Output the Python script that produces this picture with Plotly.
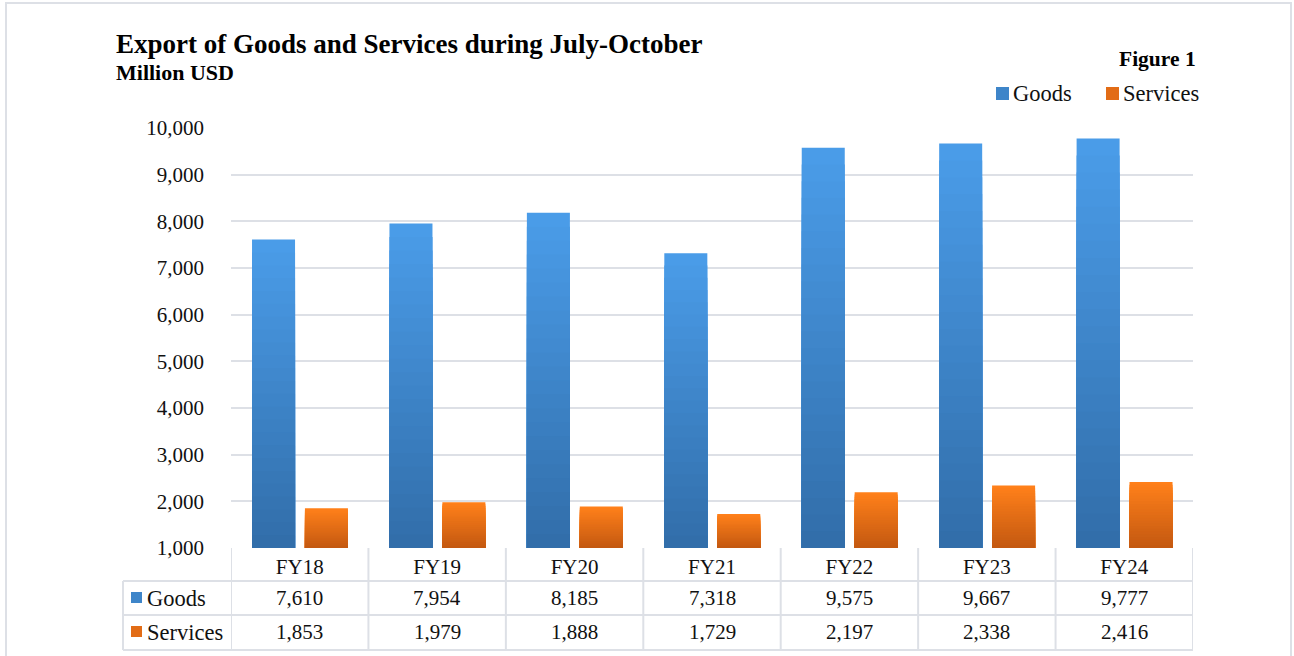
import plotly.graph_objects as go

categories = ["FY18", "FY19", "FY20", "FY21", "FY22", "FY23", "FY24"]
goods = [7610, 7954, 8185, 7318, 9575, 9667, 9777]
services = [1853, 1979, 1888, 1729, 2197, 2338, 2416]
series_names = ["Goods", "Services"]
y_ticks = [1000, 2000, 3000, 4000, 5000, 6000, 7000, 8000, 9000, 10000]

FONT = "Liberation Serif"
GRID = "#dde0e6"
AXIS_MIN = 1000

W, H = 1294, 656
L, R, T, B = 231, 1294 - 1193, 128, 656 - 548
PW, PH = W - L - R, H - T - B


def px_x(p):
    return (p - L) / PW


def px_y(p):
    return (H - B - p) / PH


def lerp(c1, c2, t):
    return "rgb(%d,%d,%d)" % tuple(round(a + (b - a) * t) for a, b in zip(c1, c2))


grad = {
    "Goods": ((74, 156, 232), (50, 110, 170)),
    "Services": ((255, 128, 26), (196, 89, 17)),
}
offsets = {"Goods": -0.347, "Services": 0.038}
BW = 0.313
N = 24

fig = go.Figure()
for name, vals in zip(series_names, [goods, services]):
    top, bot = grad[name]
    for k in range(N):
        frac = (N - k) / N
        fig.add_trace(go.Bar(
            x=categories,
            y=[(v - AXIS_MIN) * frac for v in vals],
            base=AXIS_MIN,
            width=BW,
            offset=offsets[name],
            marker=dict(color=lerp(top, bot, k / (N - 1)), line=dict(width=0)),
            name=name,
            showlegend=False,
            hoverinfo="skip" if k else None,
            customdata=vals,
            hovertemplate="%{x}<br>" + name + ": %{customdata:,}<extra></extra>",
        ))

shapes = []
annotations = []

# outer border
shapes.append(dict(type="rect", xref="paper", yref="paper",
                   x0=px_x(6), x1=px_x(1291), y0=px_y(3), y1=px_y(662),
                   line=dict(color=GRID, width=2), fillcolor="rgba(0,0,0,0)", layer="below"))

# table lines
for i in range(len(categories) + 1):
    shapes.append(dict(type="line", xref="x", yref="paper",
                       x0=i - 0.5, x1=i - 0.5, y0=0, y1=px_y(650),
                       line=dict(color=GRID, width=2)))
shapes.append(dict(type="line", xref="paper", yref="paper",
                   x0=px_x(123), x1=px_x(123), y0=px_y(581), y1=px_y(650),
                   line=dict(color=GRID, width=2)))
for ry in [581, 615, 650]:
    shapes.append(dict(type="line", xref="paper", yref="paper",
                       x0=px_x(123), x1=1, y0=px_y(ry), y1=px_y(ry),
                       line=dict(color=GRID, width=2)))

# table content
row_centers = {"Goods": 598, "Services": 632}
for name, vals in zip(series_names, [goods, services]):
    yc = px_y(row_centers[name])
    top, bot = grad[name]
    shapes.append(dict(type="rect", xref="paper", yref="paper",
                       x0=px_x(131), x1=px_x(142),
                       y0=px_y(row_centers[name] - 6), y1=px_y(row_centers[name] + 5),
                       line=dict(width=0), fillcolor=lerp(top, bot, 0.5)))
    annotations.append(dict(text=name, xref="paper", yref="paper", x=px_x(145), y=yc,
                            xanchor="left", yanchor="middle", showarrow=False,
                            font=dict(family=FONT, size=22.5, color="#111")))
    for c, v in zip(categories, vals):
        annotations.append(dict(text=f"{v:,}", xref="x", yref="paper", x=c, y=yc,
                                xanchor="center", yanchor="middle", showarrow=False,
                                font=dict(family=FONT, size=21, color="#111")))

# legend (manual)
leg_y = 93
for name, sx, tx in [("Goods", 996, 1011), ("Services", 1106, 1121)]:
    top, bot = grad[name]
    shapes.append(dict(type="rect", xref="paper", yref="paper",
                       x0=px_x(sx), x1=px_x(sx + 13), y0=px_y(leg_y - 6), y1=px_y(leg_y + 7),
                       line=dict(width=0), fillcolor=lerp(top, bot, 0.5)))
    annotations.append(dict(text=name, xref="paper", yref="paper", x=px_x(tx), y=px_y(leg_y),
                            xanchor="left", yanchor="middle", showarrow=False,
                            font=dict(family=FONT, size=22.5, color="#111")))

# titles
annotations.append(dict(text="<b>Export of Goods and Services during July-October</b>",
                        xref="paper", yref="paper", x=px_x(114), y=px_y(44),
                        xanchor="left", yanchor="middle", showarrow=False,
                        font=dict(family=FONT, size=27, color="#000")))
annotations.append(dict(text="<b>Million USD</b>",
                        xref="paper", yref="paper", x=px_x(114), y=px_y(72),
                        xanchor="left", yanchor="middle", showarrow=False,
                        font=dict(family=FONT, size=22, color="#000")))
annotations.append(dict(text="<b>Figure 1</b>",
                        xref="paper", yref="paper", x=px_x(1198), y=px_y(59),
                        xanchor="right", yanchor="middle", showarrow=False,
                        font=dict(family=FONT, size=21.5, color="#000")))

fig.update_layout(
    width=W, height=H,
    margin=dict(l=L, r=R, t=T, b=B, pad=0),
    paper_bgcolor="white", plot_bgcolor="white",
    barmode="overlay",
    showlegend=False,
    shapes=shapes,
    annotations=annotations,
    font=dict(family=FONT, color="#111"),
    xaxis=dict(type="category", range=[-0.5, len(categories) - 0.5],
               showgrid=False, zeroline=False, showline=False, ticks="",
               tickfont=dict(family=FONT, size=21, color="#111"),
               ticklabelstandoff=4, fixedrange=True),
    yaxis=dict(range=[AXIS_MIN, 10000], tickvals=y_ticks,
               ticktext=[f"{v:,}" for v in y_ticks],
               showgrid=True, gridcolor=GRID, gridwidth=2, zeroline=False,
               showline=False, ticks="",
               tickfont=dict(family=FONT, size=21, color="#111"),
               ticklabelstandoff=26, fixedrange=True),
)

fig.write_html("out.html", config={"displayModeBar": False},
               post_script="document.body.style.margin='0';document.body.style.overflow='hidden';")
